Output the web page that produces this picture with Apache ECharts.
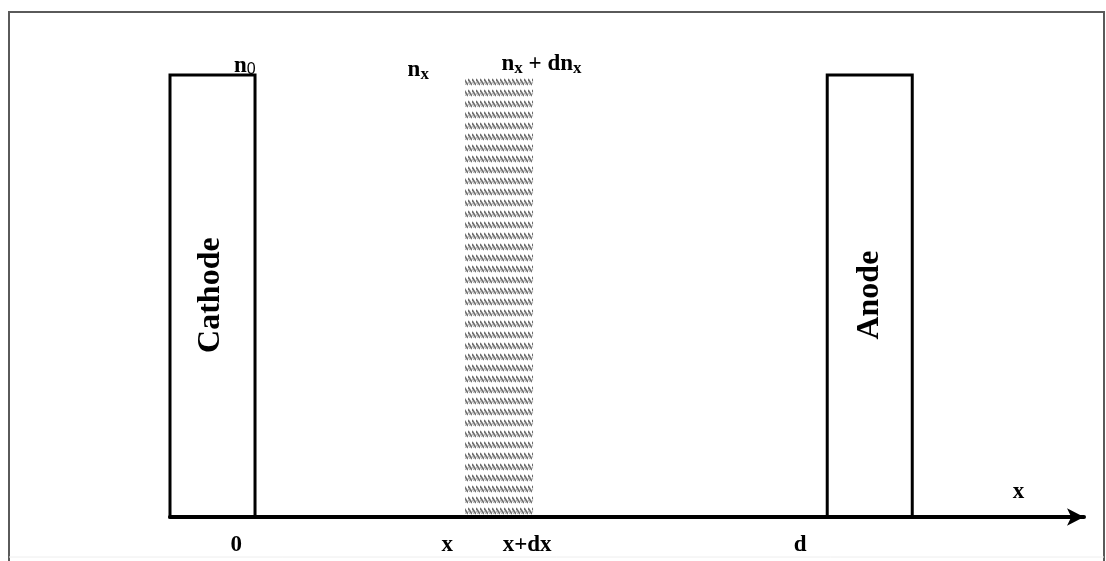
<!DOCTYPE html>
<html>
<head>
<meta charset="utf-8">
<script src="https://cdn.jsdelivr.net/npm/echarts@6/dist/echarts.min.js"></script>
<style>
html,body{margin:0;padding:0;background:#fff;}
#chart{width:1106px;height:561px;}
</style>
</head>
<body>
<div id="chart"></div>
<script>
// Electrodes (x-extent in diagram units, y from 0 to 1)
const electrodeNames = ['Cathode', 'Anode'];
const electrodeStart = [-1, 6.73];
const electrodeEnd = [0, 7.73];
const electrodeLabelX = [-0.52, 7.23];
// Hatched slab between x and x+dx
const sliceStart = [2.47];
const sliceEnd = [3.27];
// Axis tick labels under the axis
const tickLabels = ['0', 'x', 'x+dx', 'd'];
const tickLabelX = [-0.22, 2.26, 3.2, 6.41];
// Labels above the boxes
const topLabels = ['n{s|0}', 'n{b|x}', 'n{b|x} + dn{b|x}'];
const topLabelX = [-0.12, 1.92, 3.37];
const topLabelY = [1.02, 1.012, 1.024];
// axis name
const axisName = ['x'];
const axisNameX = [8.98];
const axisNameY = [0.057];

function makePattern() {
  const c = document.createElement('canvas');
  c.width = 4; c.height = 11;
  const ctx = c.getContext('2d');
  ctx.fillStyle = '#fff';
  ctx.fillRect(0, 0, 4, 11);
  ctx.strokeStyle = '#6e6e6e';
  ctx.lineWidth = 1.7;
  ctx.beginPath();
  ctx.moveTo(0, 2); ctx.lineTo(4, 8);
  ctx.stroke();
  ctx.strokeStyle = '#b0b0b0';
  ctx.lineWidth = 1;
  ctx.beginPath();
  ctx.moveTo(-2, 2); ctx.lineTo(2, 8);
  ctx.stroke();
  return c;
}

const chart = echarts.init(document.getElementById('chart'));
const serif = '"Liberation Serif","DejaVu Serif",serif';

const boxData = electrodeNames.map((n, i) => [electrodeStart[i], electrodeEnd[i], electrodeLabelX[i], n]);
const sliceData = sliceStart.map((s, i) => [s, sliceEnd[i]]);
const textData = [];
tickLabels.forEach((t, i) => textData.push([tickLabelX[i], -0.063, t]));
topLabels.forEach((t, i) => textData.push([topLabelX[i], topLabelY[i], t]));
axisName.forEach((t, i) => textData.push([axisNameX[i], axisNameY[i], t]));

const option = {
  animation: false,
  backgroundColor: '#fff',
  grid: { left: 170, right: 22, top: 75, bottom: 44 },
  xAxis: {
    type: 'value', min: -1, max: 9.75,
    axisLine: { show: true, onZero: false, symbol: ['none', 'arrow'], symbolSize: [13, 17],
      lineStyle: { color: '#000', width: 4 } },
    axisTick: { show: false }, axisLabel: { show: false }, splitLine: { show: false }
  },
  yAxis: {
    type: 'value', min: 0, max: 1, show: false
  },
  graphic: [
    { type: 'polyline', silent: true, shape: { points: [[9, 561], [9, 12], [1104, 12], [1104, 561]] },
      style: { stroke: '#5a5a5a', lineWidth: 2, fill: null } },
    { type: 'line', silent: true, shape: { x1: 9, y1: 557, x2: 1104, y2: 557 },
      style: { stroke: '#eeeeee', lineWidth: 1 } }
  ],
  series: [
    {
      type: 'custom', data: sliceData, clip: false, z: 2,
      renderItem: function (params, api) {
        const p0 = api.coord([api.value(0), 1]);
        const p1 = api.coord([api.value(1), 0]);
        return {
          type: 'rect',
          shape: { x: p0[0], y: p0[1], width: p1[0] - p0[0], height: p1[1] - p0[1] - 2 },
          style: { fill: { image: makePattern(), repeat: 'repeat' }, stroke: null }
        };
      }
    },
    {
      type: 'custom', data: boxData, clip: false, z: 3,
      renderItem: function (params, api) {
        const p0 = api.coord([api.value(0), 1]);
        const p1 = api.coord([api.value(1), 0]);
        const lc = api.coord([api.value(2), 0.502]);
        return {
          type: 'group',
          children: [
            { type: 'rect',
              shape: { x: p0[0], y: p0[1], width: p1[0] - p0[0], height: p1[1] - p0[1] },
              style: { fill: 'rgba(0,0,0,0)', stroke: '#000', lineWidth: 3 } },
            { type: 'text', x: lc[0], y: lc[1], rotation: Math.PI / 2,
              style: { text: boxData[params.dataIndex][3], font: 'bold 32px ' + serif,
                fill: '#000', align: 'center', verticalAlign: 'middle' } }
          ]
        };
      }
    },
    {
      type: 'custom', data: textData, clip: false, z: 4,
      renderItem: function (params, api) {
        const p = api.coord([api.value(0), api.value(1)]);
        return {
          type: 'text', x: p[0], y: p[1],
          style: {
            text: textData[params.dataIndex][2],
            font: 'bold 23px ' + serif, fill: '#000',
            align: 'center', verticalAlign: 'middle',
            rich: {
              s: { fontSize: 16, fontWeight: 'normal', fontFamily: '"Liberation Sans",sans-serif', fill: '#000', padding: [6, 0, 0, 0] },
              b: { fontSize: 17, fontWeight: 'bold', fontFamily: serif, fill: '#000', padding: [9, 0, 0, 0] }
            }
          }
        };
      }
    }
  ]
};
chart.setOption(option);
</script>
</body>
</html>
